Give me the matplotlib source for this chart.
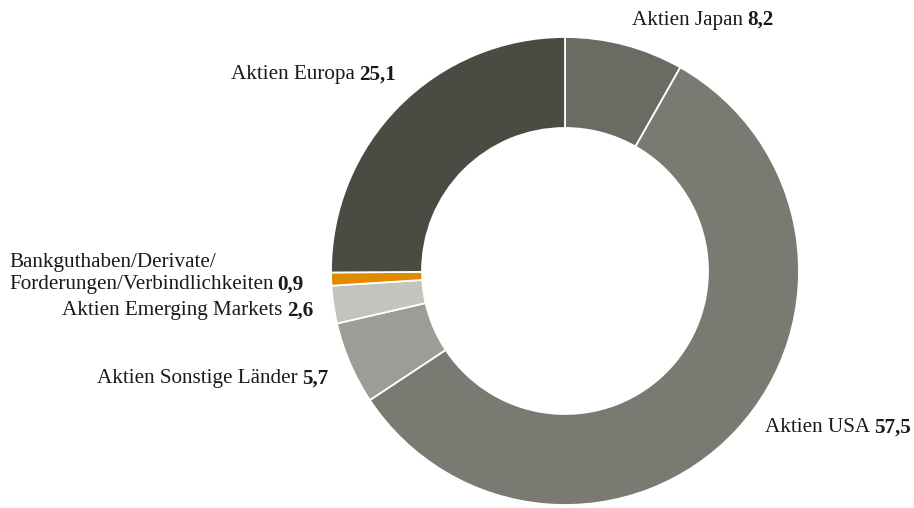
import matplotlib
matplotlib.use("Agg")
import matplotlib.pyplot as plt

labels = ["Aktien Japan", "Aktien USA", "Aktien Sonstige Länder",
          "Aktien Emerging Markets", "Bankguthaben/Derivate/\nForderungen/Verbindlichkeiten",
          "Aktien Europa"]
values = [8.2, 57.5, 5.7, 2.6, 0.9, 25.1]
value_texts = ["8,2", "57,5", "5,7", "2,6", "0,9", "25,1"]
colors = ["#6b6b63", "#7a7a73", "#9d9d97", "#c4c4bf", "#e08a00", "#4a4b42"]

W, H = 914, 508
fig = plt.figure(figsize=(W / 100, H / 100), dpi=100)
ax = fig.add_axes([0, 0, 1, 1])

cx, cy, R, r = 565, H - 271, 234, 143
ax.pie(values, colors=colors, startangle=90, counterclock=False,
       center=(cx, cy), radius=R, frame=True,
       wedgeprops=dict(width=R - r, edgecolor="white", linewidth=1.3))
ax.set_xlim(0, W)
ax.set_ylim(0, H)
ax.set_aspect("equal")
ax.axis("off")

FONT = "Liberation Serif"
FS = 15.2
TC = "#1a1a1a"
GAP = 4
renderer = fig.canvas.get_renderer()

def width_of(t):
    return t.get_window_extent(renderer=renderer).width

def right_label(label, val, xr, yc):
    y = H - yc
    tv = ax.text(xr, y, val, ha="right", va="center", fontsize=FS,
                 family=FONT, fontweight="bold", color=TC)
    w = width_of(tv)
    ax.text(xr - w - GAP, y, label, ha="right", va="center", fontsize=FS,
            family=FONT, color=TC)

# label anchors (right end x, centre y) in pixels
anchors = {0: (773, 20), 1: (911, 428), 2: (328, 379), 3: (313, 311), 5: (396, 75)}
for i, (xr, yc) in anchors.items():
    right_label(labels[i], value_texts[i], xr, yc)

# two-line label, left aligned
l1, l2 = labels[4].split("\n")
ax.text(9, H - 262, l1, ha="left", va="center", fontsize=FS, family=FONT, color=TC)
t2 = ax.text(9, H - 285, l2, ha="left", va="center", fontsize=FS, family=FONT, color=TC)
w2 = width_of(t2)
ax.text(9 + w2 + GAP, H - 285, value_texts[4], ha="left", va="center", fontsize=FS,
        family=FONT, fontweight="bold", color=TC)

fig.savefig("out.png", dpi=100, facecolor="white")
